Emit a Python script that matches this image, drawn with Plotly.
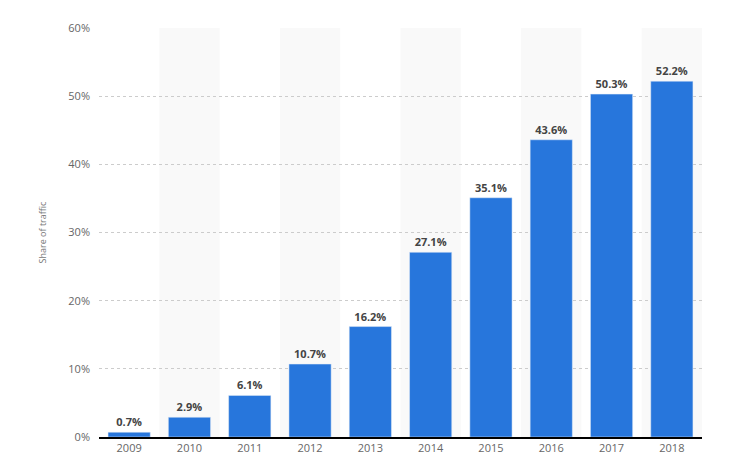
import plotly.graph_objects as go

# Share of traffic per year
years = ["2009", "2010", "2011", "2012", "2013", "2014", "2015", "2016", "2017", "2018"]
share = [0.7, 2.9, 6.1, 10.7, 16.2, 27.1, 35.1, 43.6, 50.3, 52.2]
ytick_vals = [0, 10, 20, 30, 40, 50, 60]
ytick_text = ["0%", "10%", "20%", "30%", "40%", "50%", "60%"]

fig = go.Figure()
fig.add_trace(go.Bar(
    x=list(range(len(years))), y=share,
    marker_color="#2776dc", width=0.7,
    text=[f"<b>{v}%</b>" for v in share], textposition="outside",
    textfont=dict(size=11, color="#444444", family="Open Sans"),
    cliponaxis=False,
))

# alternating column shading
shapes = []
for i in range(1, len(years), 2):
    shapes.append(dict(type="rect", xref="x", yref="paper", x0=i - 0.5, x1=i + 0.5,
                       y0=0, y1=1, fillcolor="#f9f9f9", line_width=0, layer="below"))

fig.update_layout(
    width=729, height=466,
    margin=dict(l=91, r=35, t=20, b=37),
    plot_bgcolor="white", paper_bgcolor="white",
    shapes=shapes, showlegend=False,
    font=dict(family="Open Sans", size=11, color="#666666"),
    xaxis=dict(tickvals=list(range(len(years))), ticktext=years,
               range=[-0.5, len(years) - 0.5], showgrid=False,
               showline=True, linecolor="#000000", linewidth=1.5),
    yaxis=dict(range=[0, 60], tickvals=ytick_vals, ticktext=ytick_text,
               gridcolor="#cccccc", griddash="dot", gridwidth=1, zeroline=False,
               title=dict(text="Share of traffic", font=dict(size=9, color="#777777"), standoff=20),
               ticklabelstandoff=8),
)

fig.write_html("out.html")
